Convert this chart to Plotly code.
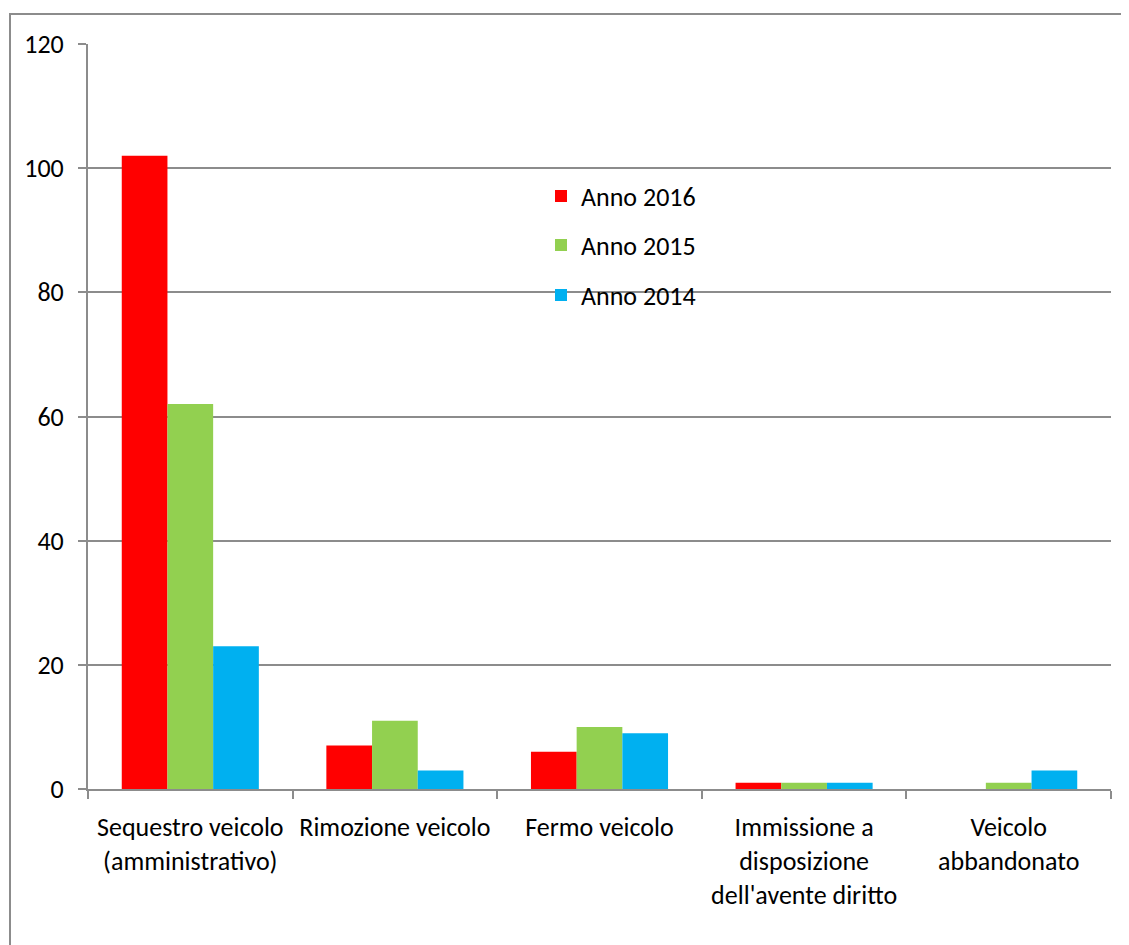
import plotly.graph_objects as go

categories = [
    "Sequestro veicolo<br>(amministrativo)",
    "Rimozione veicolo",
    "Fermo veicolo",
    "Immissione a<br>disposizione<br>dell'avente diritto",
    "Veicolo<br>abbandonato",
]
anno_2016 = [102, 7, 6, 1, 0]
anno_2015 = [62, 11, 10, 1, 1]
anno_2014 = [23, 3, 9, 1, 3]
y_ticks = [0, 20, 40, 60, 80, 100, 120]

FONT = "Carlito, Lato, sans-serif"
GRID = "#8c8c8c"
FS = 26

fig = go.Figure()
fig.add_trace(go.Bar(name="Anno 2016", x=categories, y=anno_2016, showlegend=True,
                     marker=dict(color="#FF0000", line_width=0), legend="legend"))
fig.add_trace(go.Bar(name="Anno 2015", x=categories, y=anno_2015, showlegend=True,
                     marker=dict(color="#92D050", line_width=0), legend="legend2"))
fig.add_trace(go.Bar(name="Anno 2014", x=categories, y=anno_2014, showlegend=True,
                     marker=dict(color="#00B0F0", line_width=0), legend="legend3"))

# page body has an 8px margin: figure is 8px smaller and margins shifted
leg = dict(font=dict(family=FONT, size=FS, color="#000"), bgcolor="rgba(0,0,0,0)",
           xanchor="left", yanchor="middle", itemwidth=30, x=(541 - 88) / 1023)
fig.update_layout(
    width=1121, height=937,
    margin=dict(l=80, r=18, t=36, b=156),
    paper_bgcolor="white", plot_bgcolor="white",
    showlegend=True,
    barmode="group", bargap=0.33, bargroupgap=0,
    font=dict(family=FONT, size=FS, color="#000"),
    legend=dict(leg, y=(789 - 196) / 745),
    legend2=dict(leg, y=(789 - 245) / 745),
    legend3=dict(leg, y=(789 - 295) / 745),
    xaxis=dict(showline=True, linecolor=GRID, linewidth=2, ticks="outside",
               tickson="boundaries", tickcolor=GRID, ticklen=8, tickwidth=1.5,
               ticklabelstandoff=14,
               tickfont=dict(family=FONT, size=FS, color="#000"), showgrid=False),
    yaxis=dict(range=[0, 120], tickvals=y_ticks, showline=True, linecolor=GRID,
               linewidth=2, ticks="outside", tickcolor=GRID, ticklen=8, tickwidth=1.5,
               gridcolor=GRID, gridwidth=1.5, zeroline=False, ticklabelstandoff=9,
               tickfont=dict(family=FONT, size=FS, color="#000")),
    shapes=[dict(type="rect", xref="paper", yref="paper",
                 x0=(10 - 88) / 1023, x1=1.1, y0=-0.3, y1=(789 - 14) / 745,
                 line=dict(color="#8c8c8c", width=2), fillcolor="rgba(0,0,0,0)",
                 layer="below")],
)
fig.write_html("out.html")
